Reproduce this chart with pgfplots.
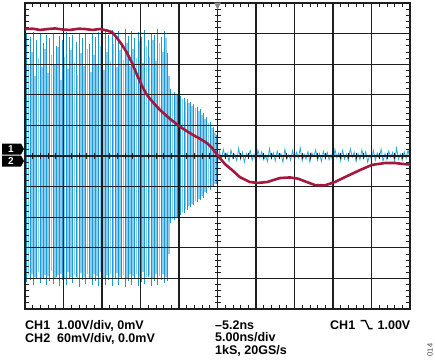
\documentclass[border=0pt]{standalone}
\usepackage{fontspec}
\setmainfont{Liberation Sans}
\usepackage{pgfplots}
\usepackage{pgfplotstable}
\pgfplotsset{compat=1.18}

\definecolor{chred}{RGB}{165,24,62}
\definecolor{chblue}{RGB}{25,155,215}
\definecolor{chlight}{RGB}{140,205,238}
\definecolor{chnoise}{RGB}{45,168,222}
\definecolor{gridc}{RGB}{30,30,30}
\definecolor{trig}{RGB}{140,140,140}

\pgfplotstableread{
x top bot
-4.950 4.02 -4.12
-4.865 3.90 -4.05
-4.780 4.05 -4.20
-4.695 3.80 -3.98
-4.610 3.98 -4.15
-4.525 3.70 -4.02
-4.440 3.95 -4.22
-4.355 3.85 -4.08
-4.270 4.00 -4.18
-4.185 3.60 -3.95
-4.100 3.92 -4.25
-4.015 3.78 -4.05
-3.930 4.05 -4.20
-3.845 3.88 -4.00
-3.760 3.96 -4.15
-3.675 3.72 -3.96
-3.590 4.02 -4.28
-3.505 3.85 -4.05
-3.420 3.98 -4.18
-3.335 3.65 -4.00
-3.250 4.00 -4.22
-3.165 3.90 -4.10
-3.080 4.05 -4.25
-2.995 3.80 -3.98
-2.910 4.10 -4.20
-2.825 3.95 -4.05
-2.740 4.12 -4.25
-2.655 3.88 -4.02
-2.570 4.08 -4.22
-2.485 3.70 -3.98
-2.400 4.15 -4.28
-2.315 3.92 -4.10
-2.230 4.10 -4.20
-2.145 3.85 -4.00
-2.060 4.05 -4.25
-1.975 3.90 -4.12
-1.890 4.12 -4.18
-1.805 3.80 -3.95
-1.720 4.02 -4.26
-1.635 3.95 -4.08
-1.550 4.15 -4.20
-1.465 3.88 -4.05
-1.380 4.10 -4.15
-1.295 3.35 -4.10
-1.210 2.18 -2.18
-1.125 2.10 -2.08
-1.040 2.02 -2.02
-0.955 1.96 -1.92
-0.870 1.90 -1.85
-0.785 1.85 -1.76
-0.700 1.76 -1.66
-0.615 1.70 -1.60
-0.530 1.60 -1.50
-0.445 1.52 -1.45
-0.360 1.40 -1.36
-0.275 1.26 -1.22
-0.190 1.12 -1.10
-0.105 0.95 -1.00
-0.020 0.70 -0.90
}\darkstrokes

\pgfplotstableread{
x top bot
-4.9075 3.00 -3.90
-4.8225 3.40 -3.85
-4.7375 2.60 -3.95
-4.6525 3.20 -3.80
-4.5675 2.90 -4.00
-4.4825 3.50 -3.88
-4.3975 2.70 -3.92
-4.3125 3.30 -3.75
-4.2275 3.00 -4.02
-4.1425 3.55 -3.90
-4.0575 2.50 -3.85
-3.9725 3.25 -3.98
-3.8875 2.85 -3.80
-3.8025 3.45 -3.95
-3.7175 3.05 -3.88
-3.6325 2.65 -4.00
-3.5475 3.35 -3.82
-3.4625 2.95 -3.94
-3.3775 3.50 -3.86
-3.2925 2.75 -3.98
-3.2075 3.30 -3.84
-3.1225 3.00 -3.92
-3.0375 3.60 -3.80
-2.9525 2.80 -4.00
-2.8675 3.40 -3.90
-2.7825 3.10 -3.85
-2.6975 3.65 -3.96
-2.6125 2.90 -3.82
-2.5275 3.45 -3.94
-2.4425 3.15 -3.88
-2.3575 3.70 -3.98
-2.2725 2.95 -3.84
-2.1875 3.50 -3.92
-2.1025 3.20 -3.86
-2.0175 3.75 -3.96
-1.9325 3.05 -3.80
-1.8475 3.60 -3.94
-1.7625 3.25 -3.88
-1.6775 3.80 -3.98
-1.5925 3.10 -3.84
-1.5075 3.70 -3.92
-1.4225 3.40 -3.86
-1.3375 3.85 -3.95
-1.2525 2.60 -3.20
-1.1675 2.05 -2.05
-1.0825 1.98 -1.98
-0.9975 1.92 -1.90
-0.9125 1.85 -1.82
-0.8275 1.78 -1.74
-0.7425 1.72 -1.64
-0.6575 1.64 -1.56
-0.5725 1.56 -1.48
-0.4875 1.46 -1.40
-0.4025 1.35 -1.30
-0.3175 1.22 -1.18
-0.2325 1.08 -1.05
-0.1475 0.92 -0.98
-0.0625 0.75 -0.92
}\lightstrokes

\pgfplotstableread{
x y
-0.02 -0.40
0.05 0.15
0.10 -0.12
0.15 0.22
0.20 -0.05
0.25 0.10
0.30 -0.18
0.35 0.20
0.40 -0.08
0.45 0.05
0.50 -0.15
0.55 0.25
0.60 -0.10
0.65 0.12
0.70 -0.20
0.75 0.08
0.80 -0.02
0.85 0.18
0.90 -0.14
0.95 0.06
1.00 -0.22
1.05 0.20
1.10 -0.06
1.15 0.14
1.20 -0.12
1.25 0.02
1.30 -0.18
1.35 0.24
1.40 -0.08
1.45 0.10
1.50 -0.16
1.55 0.16
1.60 -0.04
1.65 0.08
1.70 -0.20
1.75 0.22
1.80 -0.10
1.85 0.04
1.90 -0.14
1.95 0.18
2.00 -0.12
2.05 0.12
2.10 -0.06
2.15 0.26
2.20 -0.16
2.25 0.06
2.30 -0.10
2.35 0.14
2.40 -0.20
2.45 0.10
2.50 -0.02
2.55 0.20
2.60 -0.14
2.65 0.08
2.70 -0.18
2.75 0.16
2.80 -0.08
2.85 0.12
2.90 -0.12
2.95 0.04
3.00 -0.22
3.05 0.22
3.10 -0.06
3.15 0.10
3.20 -0.16
3.25 0.18
3.30 -0.10
3.35 0.06
3.40 -0.14
3.45 0.24
3.50 -0.04
3.55 0.12
3.60 -0.18
3.65 0.08
3.70 -0.12
3.75 0.20
3.80 -0.08
3.85 0.14
3.90 -0.20
3.95 0.02
4.00 -0.10
4.05 0.18
4.10 -0.14
4.15 0.10
4.20 -0.06
4.25 0.22
4.30 -0.16
4.35 0.08
4.40 -0.12
4.45 0.16
4.50 -0.04
4.55 0.12
4.60 -0.18
4.65 0.26
4.70 -0.10
4.75 0.06
4.80 -0.14
4.85 0.14
4.90 -0.08
4.95 0.20
5.00 -0.12
}\noise

\pgfplotstableread{
x y
-5.00 4.15
-4.80 4.16
-4.61 4.12
-4.40 4.15
-4.22 4.17
-4.00 4.13
-3.83 4.12
-3.60 4.16
-3.44 4.15
-3.25 4.12
-3.05 4.15
-2.87 4.10
-2.74 4.05
-2.61 3.86
-2.48 3.63
-2.35 3.37
-2.22 3.04
-2.09 2.65
-1.96 2.29
-1.83 1.99
-1.68 1.76
-1.49 1.50
-1.23 1.21
-0.97 0.95
-0.64 0.69
-0.45 0.56
-0.27 0.42
-0.12 0.23
0.00 0.03
0.19 -0.26
0.38 -0.46
0.58 -0.69
0.84 -0.85
1.05 -0.88
1.29 -0.85
1.62 -0.72
1.88 -0.70
2.09 -0.74
2.32 -0.85
2.53 -0.95
2.79 -0.96
3.05 -0.85
3.31 -0.69
3.70 -0.46
4.01 -0.29
4.35 -0.23
4.61 -0.23
4.82 -0.26
5.00 -0.28
}\redtrace

\begin{document}
\begin{tikzpicture}[x=1pt,y=1pt]
\useasboundingbox (-25,-51) rectangle (410,309);

% axis 1: blue trace, grid on top
\begin{axis}[
  at={(0,0)}, anchor=south west, scale only axis,
  width=385pt, height=306pt,
  xmin=-5, xmax=5, ymin=-5, ymax=5,
  xtick={-5,...,5}, ytick={-5,...,5},
  xticklabels={,,}, yticklabels={,,},
  tick label style={opacity=0},
  minor tick num=4, tick align=inside, tick pos=both,
  major tick length=0pt, minor tick length=4pt,
  minor tick style={gridc, line width=0.8pt},
  grid=major, major grid style={gridc, line width=1.1pt},
  axis line style={gridc, line width=1.6pt},
  axis on top,
]
\addplot[draw=none, mark=none, forget plot,
  error bars/.cd, y dir=minus, y explicit, error mark=none,
  error bar style={draw=chlight, line width=1.7pt}]
  table[x=x, y=top, y error minus expr=\thisrow{top}-\thisrow{bot}] {\lightstrokes};
\addplot[draw=none, mark=none, forget plot,
  error bars/.cd, y dir=minus, y explicit, error mark=none,
  error bar style={draw=chblue, line width=0.9pt}]
  table[x=x, y=top, y error minus expr=\thisrow{top}-\thisrow{bot}] {\darkstrokes};
\addplot[chnoise, line width=0.8pt, mark=none] table[x=x,y=y] {\noise};
\end{axis}

% axis 2: centre lines and red trace
\begin{axis}[
  at={(0,0)}, anchor=south west, scale only axis,
  width=385pt, height=306pt,
  xmin=-5, xmax=5, ymin=-5, ymax=5,
  axis lines=middle, axis line style={-, gridc, line width=1.1pt},
  xtick={-5,...,5}, ytick={-5,...,5},
  xticklabels={,,}, yticklabels={,,},
  tick label style={opacity=0},
  minor tick num=4, tick align=center,
  major tick length=0pt, minor tick length=6pt,
  minor tick style={gridc, line width=0.8pt},
]
\addplot[chred, line width=2.6pt, mark=none, line join=round] table[x=x,y=y] {\redtrace};
\end{axis}

% trigger position marker
\fill[trig] (189,306.5) -- (196,306.5) -- (192.5,299.5) -- cycle;

% channel ground markers
\fill[black] (-23,165.5) -- (-4,165.5) -- (-1,160) -- (-4,154.5) -- (-23,154.5) -- cycle;
\fill[black] (-23,153.5) -- (-4,153.5) -- (-1,148) -- (-4,142.5) -- (-23,142.5) -- cycle;
\node[white, font=\bfseries\fontsize{10}{10}\selectfont, inner sep=0pt] at (-14,160) {1};
\node[white, font=\bfseries\fontsize{10}{10}\selectfont, inner sep=0pt] at (-14,148) {2};

% annotations
\begin{scope}[every node/.style={inner sep=0pt, font=\bfseries\fontsize{12.5}{12.5}\selectfont}]
\node[anchor=base west] at (0,-20.5) {CH1\ \ 1.00V/div, 0mV};
\node[anchor=base west] at (0,-33) {CH2\ \ 60mV/div, 0.0mV};
\node[anchor=base west] at (190,-20.5) {–5.2ns};
\node[anchor=base west] at (190,-32.8) {5.00ns/div};
\node[anchor=base west] at (190,-45) {1kS, 20GS/s};
\node[anchor=base west] at (305,-20.5) {CH1};
\node[anchor=base east] at (385.5,-20.5) {1.00V};
\end{scope}
\draw[line width=1.3pt, black] (335.5,-11.6) -- (340.5,-11.6) -- (344,-19.6) -- (347.5,-19.6);
\node[rotate=90, inner sep=0pt, text=black!75, font=\fontsize{7.5}{7.5}\selectfont] at (405,-41) {014};
\end{tikzpicture}
\end{document}
